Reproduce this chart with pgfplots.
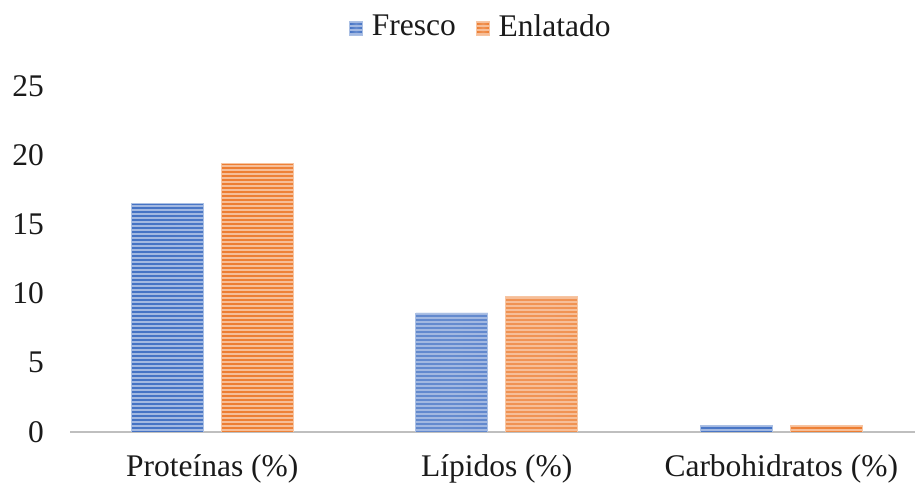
\documentclass[border=0pt]{standalone}
\usepackage{fontspec}
\setmainfont{Liberation Serif}
\usepackage{pgfplots}
\pgfplotsset{compat=1.18}
\usetikzlibrary{patterns.meta}

\definecolor{fresco}{HTML}{4472C4}
\definecolor{enlatado}{HTML}{ED7D31}
\definecolor{baseline}{HTML}{BFBFBF}
\definecolor{txt}{HTML}{1A1A1A}

% striped bar fill: a shaded base (lighter in the middle) under light horizontal lines
\tikzset{stripebar/.style={
    preaction={left color=#1, right color=#1, middle color=#1!82!white},
    draw=#1!45!white, line width=0.8bp,
    pattern={Lines[angle=0,distance=4bp,line width=2bp]},
    pattern color=#1!50!white}}

\begin{document}
\rmfamily\fontsize{31.5bp}{36bp}\selectfont
\begin{tikzpicture}
\begin{axis}[
    at={(70bp,54bp)}, anchor=south west,
    scale only axis,
    width=845bp, height=346bp,
    xmin=-0.5, xmax=2.47,
    ymin=0, ymax=25,
    ybar=18bp, bar width=72bp,
    xtick={0,1,2},
    xticklabels={Proteínas (\%), Lípidos (\%), Carbohidratos (\%)},
    ytick={0,5,...,25},
    axis x line*=bottom, axis y line*=left,
    x axis line style={-, draw=baseline, line width=2.5bp},
    y axis line style={draw=none},
    major tick length=0pt,
    tick style={draw=none},
    /pgf/number format/assume math mode=true,
    every tick label/.append style={font=\rmfamily\fontsize{31.5bp}{36bp}\selectfont, text=txt},
    xticklabel style={anchor=base, inner sep=0pt, yshift=-44bp},
    yticklabel style={anchor=east, inner sep=0pt, xshift=-26bp},
    legend columns=2,
    legend style={draw=none, fill=none, at={(0.485,1.1676)}, anchor=center,
        font=\rmfamily\fontsize{31.5bp}{36bp}\selectfont, text=txt,
        /tikz/every odd column/.append style={column sep=9bp},
        /tikz/every even column/.append style={column sep=20bp},
        nodes={inner sep=0pt}},
    legend image code/.code={\draw[#1] (0bp,-7bp) rectangle (13bp,7bp);},
]
\addplot[stripebar=fresco] coordinates {(0,16.5) (1,8.6) (2,0.5)};
\addplot[stripebar=enlatado] coordinates {(0,19.4) (1,9.8) (2,0.5)};
\legend{Fresco, Enlatado}
\end{axis}
\pgfresetboundingbox
\useasboundingbox (0,0) rectangle (915bp,486bp);
\end{tikzpicture}
\end{document}
